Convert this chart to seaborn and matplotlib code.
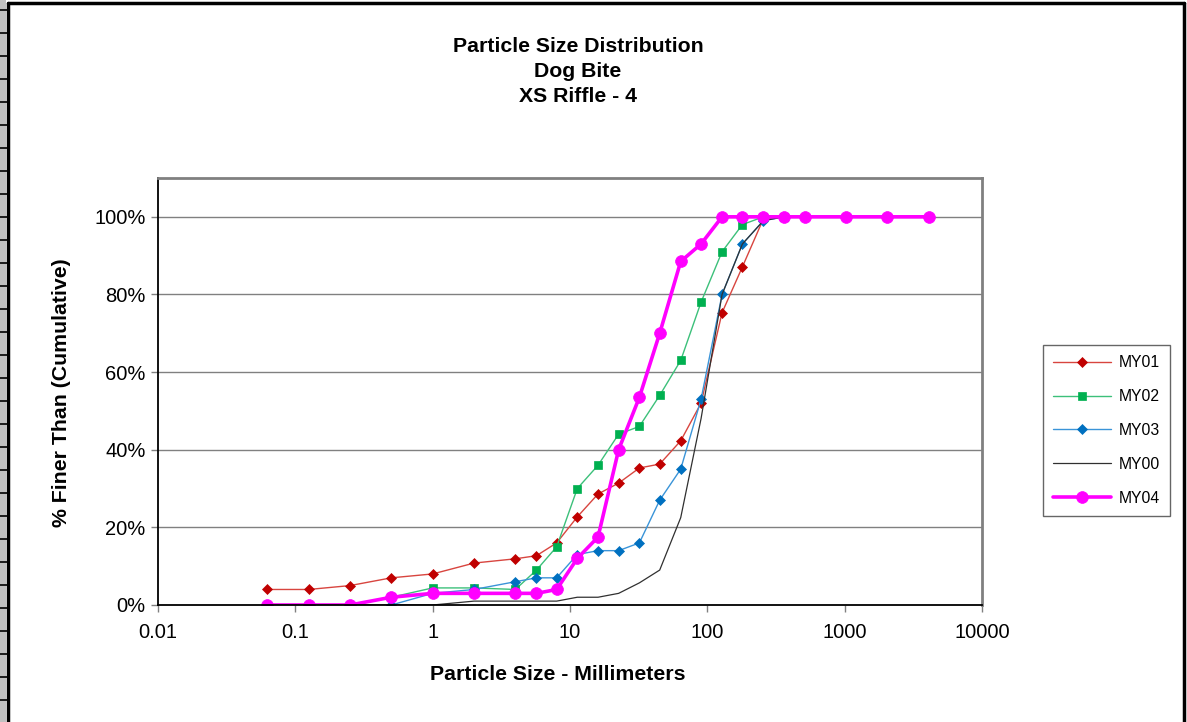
import numpy as np
import pandas as pd
import matplotlib
matplotlib.use("Agg")
import matplotlib.pyplot as plt
import seaborn as sns
from matplotlib.ticker import FuncFormatter, FixedLocator, NullLocator

# sieve sizes (mm) and cumulative % finer for each survey
sizes = [0.062, 0.125, 0.25, 0.5, 1, 2, 4, 5.7, 8, 11.3, 16, 22.6, 32, 45,
         64, 90, 128, 180, 256, 362, 512, 1024, 2048, 4096]
nan = np.nan
my01 = [4, 4, 5, 7, 8, 10.8, 11.9, 12.7, 16, 22.7, 28.6, 31.4, 35.3, 36.3,
        42.3, 52, 75.3, 87.1, 99.5, 100, nan, nan, nan, nan]
my02 = [nan, nan, nan, 2, 4.4, 4.4, 4, 9, 15, 30, 36, 44, 46, 54,
        63, 78, 91, 98, 100, 100, nan, nan, nan, nan]
my03 = [nan, nan, nan, 0, 3, 4, 6, 7, 7, 13, 14, 14, 16, 27,
        35, 53, 80, 93, 99, 100, nan, nan, nan, nan]
my00 = [0, 0, 0, 0, 0, 1, 1, 1, 1, 2, 2, 3, 5.7, 9,
        22.5, 48, 80, 93, 99, 100, nan, nan, nan, nan]
my04 = [0, 0, 0, 2, 3, 3, 3, 3, 4, 12, 17.5, 40, 53.5, 70,
        88.5, 93, 100, 100, 100, 100, 100, 100, 100, 100]

series_names = ["MY01", "MY02", "MY03", "MY00", "MY04"]
series_vals = [my01, my02, my03, my00, my04]

styles = {
    "MY01": dict(color="#D8453F", mfc="#C00000", mec="#C00000", marker="D", ms=4.6, lw=1.0),
    "MY02": dict(color="#3CC07A", mfc="#00B050", mec="#00B050", marker="s", ms=5.6, lw=1.0),
    "MY03": dict(color="#3A94D8", mfc="#0070C0", mec="#0070C0", marker="D", ms=4.6, lw=1.0),
    "MY00": dict(color="#303030", mfc="none", mec="none", marker="", ms=0, lw=0.9),
    "MY04": dict(color="#FF00FF", mfc="#FF00FF", mec="#FF00FF", marker="o", ms=8.5, lw=2.6),
}

sns.set_style("white")
plt.rcParams['font.family'] = ['Liberation Sans', 'DejaVu Sans']
plt.rcParams['text.color'] = 'black'
plt.rcParams['axes.labelcolor'] = 'black'

W, H = 1187, 722
fig = plt.figure(figsize=(W / 100, H / 100), dpi=100)
ax = fig.add_axes([158 / W, 1 - 605 / H, (982 - 158) / W, (605 - 178) / H])

for name, vals in zip(series_names, series_vals):
    d = pd.DataFrame({"size": sizes, "pct": np.array(vals) / 100.0}).dropna()
    st = styles[name]
    sns.lineplot(data=d, x="size", y="pct", ax=ax, label=name,
                 color=st["color"], marker=st["marker"] or None,
                 markersize=st["ms"], markerfacecolor=st["mfc"],
                 markeredgecolor=st["mec"], markeredgewidth=0.5,
                 linewidth=st["lw"], sort=False, estimator=None)

ax.set_xscale("log")
ax.set_xlim(0.01, 10000)
ax.set_ylim(0, 1.1)
ax.xaxis.set_major_locator(FixedLocator([0.01, 0.1, 1, 10, 100, 1000, 10000]))
ax.xaxis.set_minor_locator(NullLocator())
ax.xaxis.set_major_formatter(FuncFormatter(lambda v, p: f"{v:g}"))
ax.set_yticks([0, 0.2, 0.4, 0.6, 0.8, 1.0])
ax.yaxis.set_major_formatter(FuncFormatter(lambda v, p: f"{v * 100:.0f}%"))

for y in [0.2, 0.4, 0.6, 0.8, 1.0]:
    ax.axhline(y, color="#808080", lw=1.0, zorder=0)

ax.tick_params(axis="both", which="major", direction="out", length=5,
               width=1, color="#808080", labelsize=14.5, labelcolor="black",
               bottom=True, left=True, pad=4)
ax.tick_params(axis="x", pad=8)
for side in ["left", "bottom"]:
    ax.spines[side].set_color("black")
    ax.spines[side].set_linewidth(1.3)
for side in ["top", "right"]:
    ax.spines[side].set_color("#808080")
    ax.spines[side].set_linewidth(2.0)
ax.set_xlabel("")
ax.set_ylabel("")

fig.text(578 / W, 1 - 71.5 / H, "Particle Size Distribution\nDog Bite\nXS Riffle - 4",
         ha="center", va="center", fontsize=15.3, fontweight="bold",
         linespacing=1.4, color="black")
fig.text(558 / W, 1 - 674 / H, "Particle Size - Millimeters",
         ha="center", va="center", fontsize=15.3, fontweight="bold", color="black")
fig.text(62 / W, 1 - 393 / H, "% Finer Than (Cumulative)", rotation=90,
         ha="center", va="center", fontsize=15.3, fontweight="bold", color="black")

leg = ax.legend(loc="upper left", bbox_to_anchor=(1043 / W, 1 - 345 / H),
                bbox_transform=fig.transFigure, borderaxespad=0,
                fontsize=11.3, frameon=True, fancybox=False, shadow=False,
                handlelength=3.7, labelspacing=1.2, borderpad=0.65,
                handletextpad=0.45)
leg.get_frame().set_edgecolor("#404040")
leg.get_frame().set_linewidth(1.0)
for t in leg.get_texts():
    t.set_color("black")

# outer chart border and left strip
fig.add_artist(plt.Line2D([8 / W, 1184 / W], [1 - 3 / H, 1 - 3 / H],
                          transform=fig.transFigure, color="black", lw=2.5))
fig.add_artist(plt.Line2D([8 / W, 8 / W], [0, 1 - 3 / H],
                          transform=fig.transFigure, color="black", lw=2.5))
fig.add_artist(plt.Line2D([1184 / W, 1184 / W], [0, 1 - 3 / H],
                          transform=fig.transFigure, color="black", lw=2.5))
fig.add_artist(plt.Rectangle((0, 0), 6 / W, 1, transform=fig.transFigure,
                             facecolor="#C0C0C0", edgecolor="none"))
for yy in range(10, 722, 23):
    fig.add_artist(plt.Line2D([0, 7 / W], [1 - yy / H, 1 - yy / H],
                              transform=fig.transFigure, color="black", lw=1.2))

fig.savefig("out.png", dpi=100)
